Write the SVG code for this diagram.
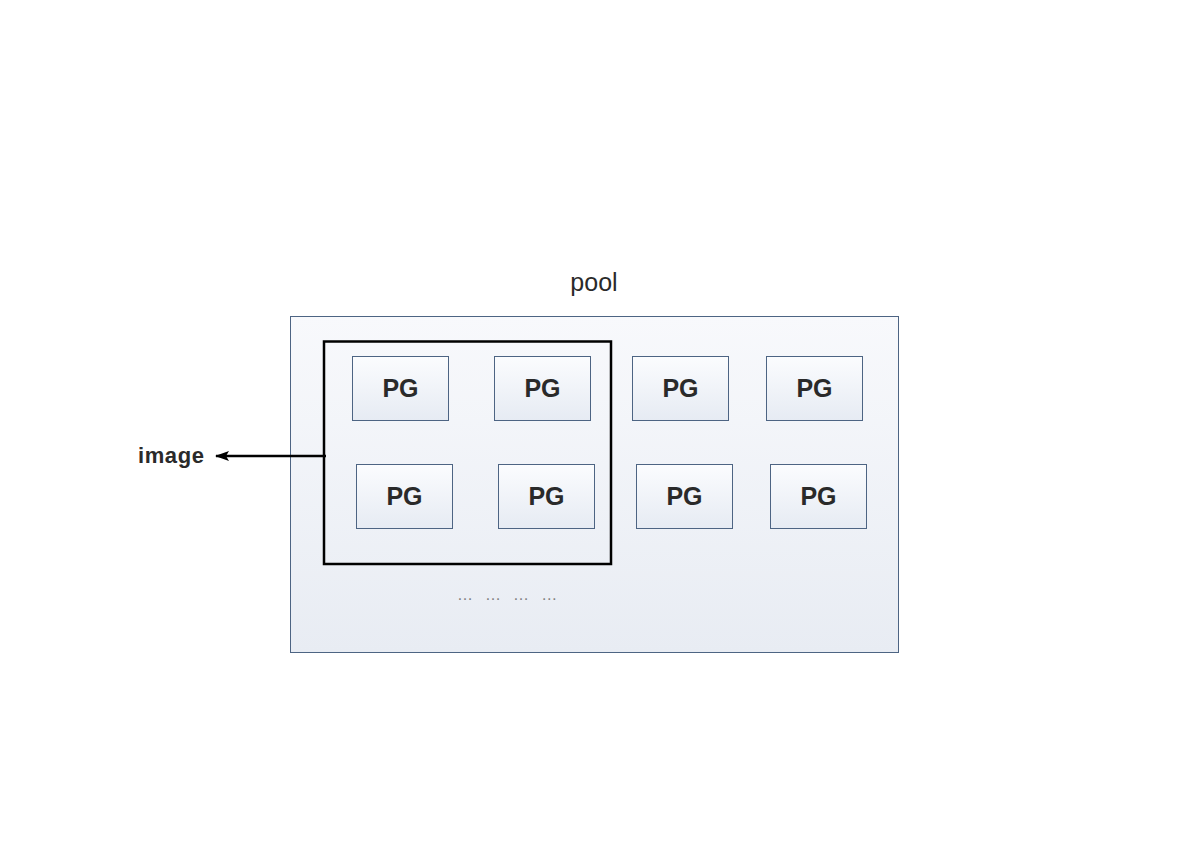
<svg xmlns="http://www.w3.org/2000/svg" width="1189" height="841" viewBox="0 0 1189 841">
<defs>
<linearGradient id="gPool" x1="0" y1="0" x2="0" y2="1"><stop offset="0" stop-color="#f8f9fc"/><stop offset="1" stop-color="#e8ecf3"/></linearGradient>
<linearGradient id="gPG" x1="0" y1="0" x2="0" y2="1"><stop offset="0" stop-color="#fbfcfe"/><stop offset="1" stop-color="#e6ebf3"/></linearGradient>
<marker id="arr" markerWidth="14" markerHeight="10" refX="13" refY="5" orient="auto" markerUnits="userSpaceOnUse"><path d="M0,0 L14,5 L0,10 L3,5 Z" fill="#000"/></marker>
</defs>
<style>
.pg rect{fill:url(#gPG);stroke:#4d6483;stroke-width:1}
.pg text{font-family:"Liberation Sans",Arial,sans-serif;font-weight:bold;font-size:25px;fill:#2a2a2a;text-anchor:middle}
.lbl{font-family:"Liberation Sans",Arial,sans-serif;fill:#2a2a2a}
</style>
<rect width="1189" height="841" fill="#fff"/>
<g id="pool">
<text class="lbl" x="594" y="291" font-size="25" text-anchor="middle">pool</text>
<rect x="290.5" y="316.5" width="608" height="336" fill="url(#gPool)" stroke="#4d6483" stroke-width="1"/>
<text class="lbl" x="457" y="600" font-size="16" letter-spacing="3.8" style="fill:#808080">… … … …</text>
</g>
<g id="image-box"><rect x="324" y="341.5" width="287" height="222.5" fill="none" stroke="#000" stroke-width="2.5"/></g>
<g id="pg1" class="pg"><rect x="352.5" y="356.5" width="96" height="64"/><text x="400.5" y="397">PG</text></g>
<g id="pg2" class="pg"><rect x="494.5" y="356.5" width="96" height="64"/><text x="542.5" y="397">PG</text></g>
<g id="pg3" class="pg"><rect x="632.5" y="356.5" width="96" height="64"/><text x="680.5" y="397">PG</text></g>
<g id="pg4" class="pg"><rect x="766.5" y="356.5" width="96" height="64"/><text x="814.5" y="397">PG</text></g>
<g id="pg5" class="pg"><rect x="356.5" y="464.5" width="96" height="64"/><text x="404.5" y="505">PG</text></g>
<g id="pg6" class="pg"><rect x="498.5" y="464.5" width="96" height="64"/><text x="546.5" y="505">PG</text></g>
<g id="pg7" class="pg"><rect x="636.5" y="464.5" width="96" height="64"/><text x="684.5" y="505">PG</text></g>
<g id="pg8" class="pg"><rect x="770.5" y="464.5" width="96" height="64"/><text x="818.5" y="505">PG</text></g>
<g id="image-label"><text class="lbl" x="138" y="463" font-size="22" font-weight="bold" letter-spacing="0.6">image</text></g>
<g id="connectors"><line x1="326" y1="456" x2="216" y2="456" stroke="#000" stroke-width="2.5" marker-end="url(#arr)"/></g>
</svg>
